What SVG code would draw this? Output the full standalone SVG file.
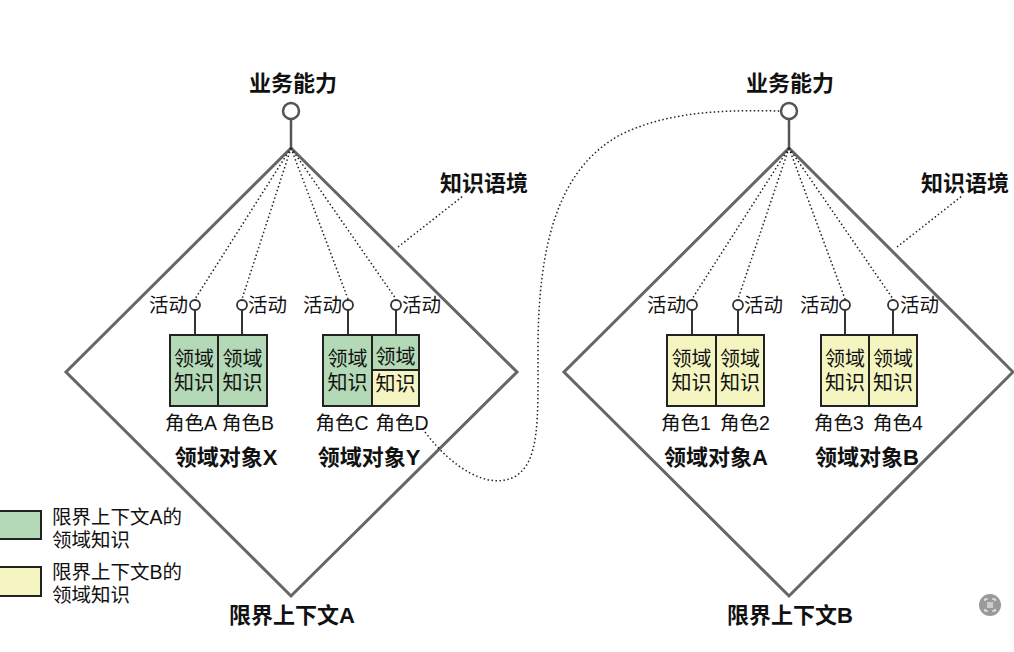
<svg xmlns="http://www.w3.org/2000/svg" width="1014" height="652" viewBox="0 0 1014 652">
<style>
text{font-family:"Liberation Sans","Noto Sans CJK SC",sans-serif;fill:#111}
.r{font-size:19.5px}
.k{font-size:20px}
.b{font-size:22px;font-weight:bold}
.m{text-anchor:middle}
.e{text-anchor:end}
.dia{fill:#fff;stroke:#666;stroke-width:3}
.cap{fill:#fff;stroke:#555;stroke-width:2.5}
.stem{stroke:#555;stroke-width:2.5}
.dot{fill:none;stroke:#222;stroke-width:1.5;stroke-dasharray:1.5 2.5}
.act{fill:#fff;stroke:#333;stroke-width:1.8}
.actl{stroke:#333;stroke-width:2}
.g{fill:#b3d9b6;stroke:#222;stroke-width:2}
.y{fill:#f4f5c0;stroke:#222;stroke-width:2}
</style>
<rect width="1014" height="652" fill="#fff"/>

<g id="context-A">
<polygon class="dia" points="291,148 517,372 291,596 66,372"/>
<line class="stem" x1="291" y1="120" x2="291" y2="148"/>
<circle class="cap" cx="291" cy="111" r="8"/>
<text class="b m" x="293" y="91">业务能力</text>
<text class="b m" x="484" y="191">知识语境</text>
<text class="b m" x="292" y="623">限界上下文A</text>
</g>

<g id="context-B">
<polygon class="dia" points="789,148 1013,372 789,596 564,372"/>
<line class="stem" x1="789" y1="120" x2="789" y2="148"/>
<circle class="cap" cx="789" cy="111" r="8"/>
<text class="b m" x="790" y="91">业务能力</text>
<text class="b m" x="965" y="191">知识语境</text>
<text class="b m" x="790" y="623">限界上下文B</text>
</g>

<g id="connectors">
<line class="dot" x1="291" y1="148" x2="195" y2="299"/>
<line class="dot" x1="291" y1="148" x2="242" y2="299"/>
<line class="dot" x1="291" y1="148" x2="348" y2="299"/>
<line class="dot" x1="291" y1="148" x2="396" y2="299"/>
<line class="dot" x1="789" y1="148" x2="692" y2="299"/>
<line class="dot" x1="789" y1="148" x2="738" y2="299"/>
<line class="dot" x1="789" y1="148" x2="845" y2="299"/>
<line class="dot" x1="789" y1="148" x2="893" y2="299"/>
<line class="dot" x1="398" y1="247" x2="463" y2="196"/>
<line class="dot" x1="897" y1="247" x2="962" y2="196"/>
<path class="dot" d="M425,432 C452,468 488,490 514,477 C540,463 538,420 538,350 C538,240 560,168 620,135 C670,110 730,110 780,111"/>
</g>

<g id="object-X">
<line class="actl" x1="195" y1="310" x2="195" y2="335"/>
<line class="actl" x1="242" y1="310" x2="242" y2="335"/>
<circle class="act" cx="195" cy="305" r="5"/>
<circle class="act" cx="242" cy="305" r="5"/>
<text class="r e" x="188" y="312">活动</text>
<text class="r" x="248" y="312">活动</text>
<rect class="g" x="170" y="335" width="48" height="71"/>
<rect class="g" x="218" y="335" width="49" height="71"/>
<text class="k m" x="194" y="366">领域</text>
<text class="k m" x="194" y="390">知识</text>
<text class="k m" x="242.5" y="366">领域</text>
<text class="k m" x="242.5" y="390">知识</text>
<text class="r m" x="191" y="430">角色A</text>
<text class="r m" x="248" y="430">角色B</text>
<text class="b m" x="226" y="465">领域对象X</text>
</g>

<g id="object-Y">
<line class="actl" x1="348" y1="310" x2="348" y2="335"/>
<line class="actl" x1="396" y1="310" x2="396" y2="335"/>
<circle class="act" cx="348" cy="305" r="5"/>
<circle class="act" cx="396" cy="305" r="5"/>
<text class="r e" x="342" y="312">活动</text>
<text class="r" x="402" y="312">活动</text>
<rect class="g" x="323" y="335" width="49" height="71"/>
<rect class="g" x="372" y="335" width="47" height="35"/>
<rect class="y" x="372" y="370" width="47" height="36"/>
<text class="k m" x="347.5" y="366">领域</text>
<text class="k m" x="347.5" y="390">知识</text>
<text class="k m" x="395.5" y="364">领域</text>
<text class="k m" x="395.5" y="391">知识</text>
<text class="r m" x="342" y="430">角色C</text>
<text class="r m" x="402" y="430">角色D</text>
<text class="b m" x="369" y="465">领域对象Y</text>
</g>

<g id="object-A">
<line class="actl" x1="692" y1="310" x2="692" y2="335"/>
<line class="actl" x1="738" y1="310" x2="738" y2="335"/>
<circle class="act" cx="692" cy="305" r="5"/>
<circle class="act" cx="738" cy="305" r="5"/>
<text class="r e" x="686" y="312">活动</text>
<text class="r" x="744" y="312">活动</text>
<rect class="y" x="667" y="335" width="49" height="71"/>
<rect class="y" x="716" y="335" width="48" height="71"/>
<text class="k m" x="691.5" y="366">领域</text>
<text class="k m" x="691.5" y="390">知识</text>
<text class="k m" x="740" y="366">领域</text>
<text class="k m" x="740" y="390">知识</text>
<text class="r m" x="686" y="430">角色1</text>
<text class="r m" x="745" y="430">角色2</text>
<text class="b m" x="716" y="465">领域对象A</text>
</g>

<g id="object-B">
<line class="actl" x1="845" y1="310" x2="845" y2="335"/>
<line class="actl" x1="893" y1="310" x2="893" y2="335"/>
<circle class="act" cx="845" cy="305" r="5"/>
<circle class="act" cx="893" cy="305" r="5"/>
<text class="r e" x="839" y="312">活动</text>
<text class="r" x="900" y="312">活动</text>
<rect class="y" x="821" y="335" width="48" height="71"/>
<rect class="y" x="869" y="335" width="48" height="71"/>
<text class="k m" x="845" y="366">领域</text>
<text class="k m" x="845" y="390">知识</text>
<text class="k m" x="893" y="366">领域</text>
<text class="k m" x="893" y="390">知识</text>
<text class="r m" x="839" y="430">角色3</text>
<text class="r m" x="898" y="430">角色4</text>
<text class="b m" x="867" y="465">领域对象B</text>
</g>

<g id="legend">
<rect class="g" x="-2" y="511" width="43" height="28"/>
<text class="r" x="52" y="524">限界上下文A的</text>
<text class="r" x="52" y="547">领域知识</text>
<rect class="y" x="-2" y="567" width="43" height="29"/>
<text class="r" x="52" y="579">限界上下文B的</text>
<text class="r" x="52" y="602">领域知识</text>
</g>

<g id="badge">
<circle cx="990" cy="605" r="11" fill="#9a9a9a"/>
<path d="M985,601 v-2 h3 M992,599 h3 v2 M995,609 v2 h-3 M988,611 h-3 v-2" fill="none" stroke="#fff" stroke-width="1.2"/>
<path d="M987,603 h6 M987,605 h6 M987,607 h6" stroke="#fff" stroke-width="1"/>
</g>
</svg>
